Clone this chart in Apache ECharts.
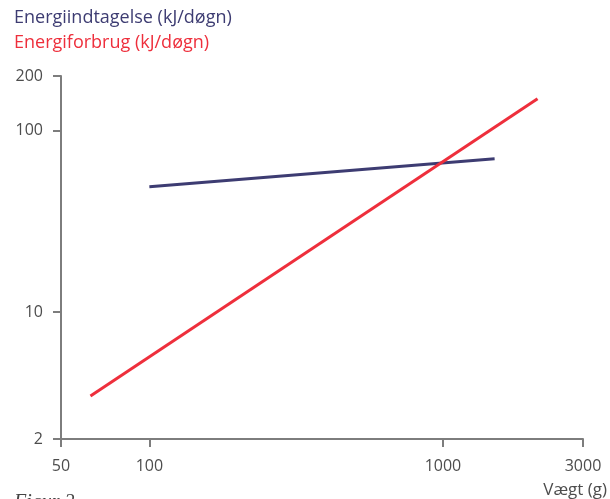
<!DOCTYPE html>
<html><head><meta charset="utf-8">
<script src="https://cdn.jsdelivr.net/npm/echarts@6/dist/echarts.min.js"></script>
<style>html,body{margin:0;padding:0;background:#fff}#c{width:610px;height:499px}</style>
</head><body><div id="c"></div>
<script>
const seriesNames = ['Energiindtagelse (kJ/døgn)', 'Energiforbrug (kJ/døgn)'];
const intakeWeight = [100, 1500];
const intakeEnergy = [49, 70];
const useWeight = [63, 2100];
const useEnergy = [3.45, 150];
const xLabelText = 'Vægt (g)';
const xMin = 50, xMax = 3000, yMin = 2, yMax = 200;

const chart = echarts.init(document.getElementById('c'), null, {renderer: 'canvas'});
const font = '"Open Sans", "DejaVu Sans", sans-serif';
const fmt = v => String(Math.round(v));
chart.setOption({
  animation: false,
  legend: {
    orient: 'vertical', left: 4, top: 4, itemGap: 7, itemWidth: 0, itemHeight: 0, icon: 'none',
    textStyle: {fontFamily: font, fontSize: 18},
    data: [
      {name: seriesNames[0], textStyle: {color: '#3d3c72'}},
      {name: seriesNames[1], textStyle: {color: '#ee2f3c'}}
    ],
    selectedMode: false
  },
  grid: {left: 61, right: 27, top: 76, bottom: 60, containLabel: false},
  xAxis: {
    type: 'log', logBase: 10, min: xMin, max: xMax,
    axisLine: {lineStyle: {color: '#7d7d7d', width: 2}},
    axisTick: {show: true, length: 8, lineStyle: {color: '#7d7d7d', width: 2}},
    axisLabel: {color: '#4d4d4d', fontFamily: font, fontSize: 16, margin: 19, showMinLabel: true, showMaxLabel: true, formatter: fmt},
    splitLine: {show: false}, minorTick: {show: false},
    name: xLabelText, nameLocation: 'end', nameGap: 0,
    nameTextStyle: {color: '#4d4d4d', fontFamily: font, fontSize: 17, align: 'right', verticalAlign: 'top', padding: [43, -24, 0, 0]}
  },
  yAxis: {
    type: 'log', logBase: 10, min: yMin, max: yMax,
    axisLine: {lineStyle: {color: '#7d7d7d', width: 2}},
    axisTick: {show: true, length: 8, lineStyle: {color: '#7d7d7d', width: 2}},
    axisLabel: {color: '#4d4d4d', fontFamily: font, fontSize: 16, margin: 18, showMinLabel: true, showMaxLabel: true, formatter: fmt},
    splitLine: {show: false}, minorTick: {show: false}
  },
  graphic: [{
    type: 'text', left: 14, top: 493,
    style: {text: 'Figur 2', fontFamily: '"Liberation Serif", serif', fontStyle: 'italic', fontSize: 20, fill: '#444'}
  }],
  series: [
    {
      name: seriesNames[0], type: 'line', symbol: 'none',
      lineStyle: {color: '#3d3c72', width: 3}, itemStyle: {color: '#3d3c72'},
      data: intakeWeight.map((w, i) => [w, intakeEnergy[i]])
    },
    {
      name: seriesNames[1], type: 'line', symbol: 'none',
      lineStyle: {color: '#ee2f3c', width: 3}, itemStyle: {color: '#ee2f3c'},
      data: useWeight.map((w, i) => [w, useEnergy[i]])
    }
  ]
});
</script></body></html>
